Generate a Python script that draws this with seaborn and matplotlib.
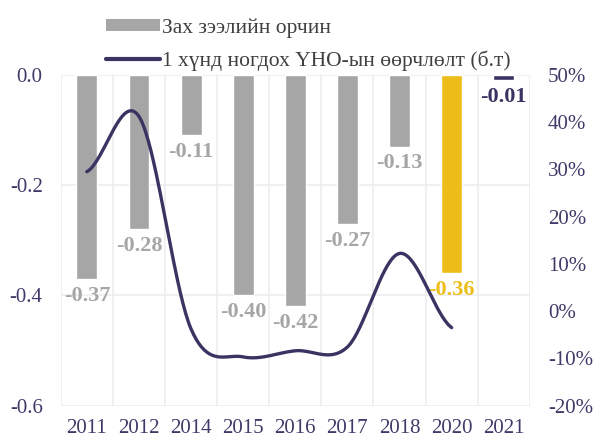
import seaborn as sns
import pandas as pd
import matplotlib.pyplot as plt
import numpy as np
from matplotlib.patches import Patch
from matplotlib.lines import Line2D
from matplotlib.ticker import FuncFormatter

years = ["2011", "2012", "2014", "2015", "2016", "2017", "2018", "2020", "2021"]
market_env = [-0.37, -0.28, -0.11, -0.40, -0.42, -0.27, -0.13, -0.36, -0.01]
gdp_change = [29.5, 41.2, -3.8, -9.7, -8.4, -7.6, 12.2, -3.5]  # percent, 2011..2020

GREY = "#A6A6A6"
YELLOW = "#EDBD1A"
NAVY = "#3A3463"
TICK = "#3F3A68"
GRID = "#EDEDED"

bar_colors = [GREY] * 7 + [YELLOW, NAVY]


def smooth(y, n=40):
    # catmull-rom style smoothing, like excel smoothed lines
    p = np.concatenate([[y[0]], y, [y[-1]]])
    xs, ys = [], []
    for i in range(1, len(p) - 2):
        t = np.linspace(0, 1, n)
        p0, p1, p2, p3 = p[i - 1], p[i], p[i + 1], p[i + 2]
        yy = 0.5 * ((2 * p1) + (-p0 + p2) * t + (2 * p0 - 5 * p1 + 4 * p2 - p3) * t ** 2
                    + (-p0 + 3 * p1 - 3 * p2 + p3) * t ** 3)
        xs.append(i - 1 + t)
        ys.append(yy)
    return np.concatenate(xs), np.concatenate(ys)


sns.set_style("white")
plt.rcParams["font.family"] = ["Liberation Serif", "DejaVu Serif"]

fig = plt.figure(figsize=(5.93, 4.43), dpi=100)
ax = fig.add_axes([0.1025, 0.0845, 0.791, 0.7465])

df = pd.DataFrame({"year": years, "val": market_env})
sns.barplot(data=df, x="year", y="val", hue="year", palette=bar_colors,
            width=0.4, legend=False, ax=ax, saturation=1)

ax.set_ylim(-0.6, 0)
ax.set_xlim(-0.5, len(years) - 0.5)
ax.set_yticks([0.0, -0.2, -0.4, -0.6])
ax.yaxis.set_major_formatter(FuncFormatter(lambda v, p: "%.1f" % v if v != 0 else "0.0"))
ax.set_xlabel("")
ax.set_ylabel("")
for s in ax.spines.values():
    s.set_visible(False)
ax.set_xticks(np.arange(-0.5, len(years), 1), minor=True)
ax.grid(axis="y", color=GRID, lw=1.2)
ax.grid(axis="x", which="minor", color=GRID, lw=1.2)
ax.grid(axis="x", which="major", visible=False)
ax.set_axisbelow(True)
ax.tick_params(axis="both", which="both", length=0, labelsize=15, colors=TICK)
ax.tick_params(axis="x", pad=10)
ax.tick_params(axis="y", pad=13)

for i, v in enumerate(market_env):
    ax.annotate("%.2f" % v, (i, v), xytext=(0, -5), textcoords="offset points",
                ha="center", va="top", fontsize=16, fontweight="bold", color=bar_colors[i])

ax2 = ax.twinx()
lx, ly = smooth(np.array(gdp_change))
ax2.plot(lx, ly, color=NAVY, lw=2.4, solid_capstyle="round")
ax2.set_ylim(-20, 50)
ax2.set_yticks(np.arange(-20, 51, 10))
ax2.yaxis.set_major_formatter(FuncFormatter(lambda v, p: "%d%%" % v))
for s in ax2.spines.values():
    s.set_visible(False)
ax2.tick_params(axis="y", length=0, labelsize=15, colors=TICK, pad=13)
ax2.grid(False)

handles = [Patch(facecolor=GREY, edgecolor="none"), Line2D([], [], color=NAVY, lw=3)]
labels = ["Зах зээлийн орчин", "1 хүнд ногдох ҮНО-ын өөрчлөлт (б.т)"]
fig.legend(handles, labels, loc="upper left", bbox_to_anchor=(0.146, 1.003),
           frameon=False, fontsize=15.5, handlelength=2.5, handleheight=0.5,
           handletextpad=0.1, labelspacing=0.6, labelcolor="#404040")

fig.savefig("out.png", dpi=100)
